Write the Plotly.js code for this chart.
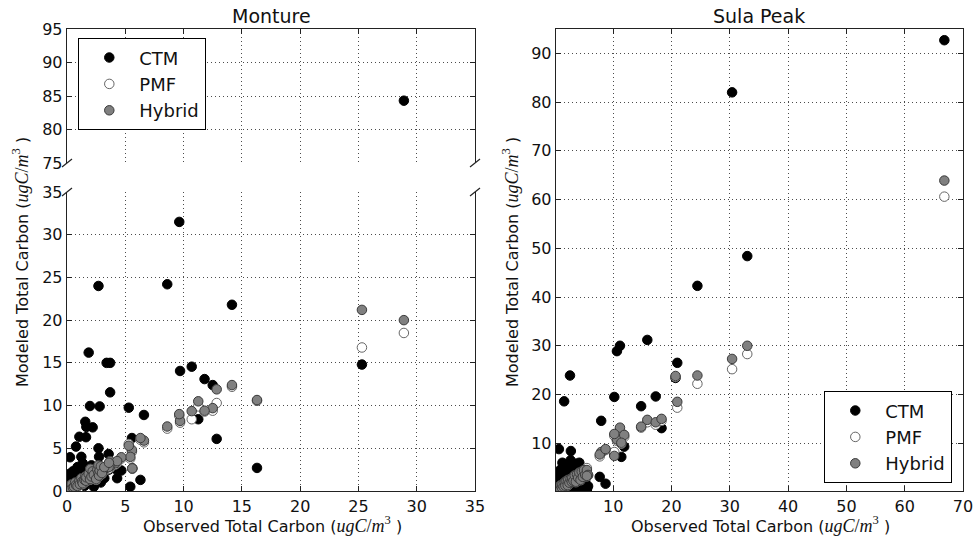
<!DOCTYPE html>
<html>
<head>
<meta charset="utf-8">
<script src="https://cdn.plot.ly/plotly-3.0.1.min.js"></script>
<style>html,body{margin:0;padding:0;background:#fff;}#chart{width:974px;height:538px;}</style>
</head>
<body>
<div id="chart"></div>
<script>
// ---------------- Data: Monture ----------------
const monX   = [28.9, 25.3, 16.3, 14.15, 12.84, 12.5, 11.8, 11.26, 10.7, 9.7, 9.63, 8.6,
                6.6, 6.3, 5.57, 5.6, 5.3, 5.43, 4.66, 4.14, 3.7, 3.4, 3.7, 3.57, 4.3,
                0.05, 0.1, 0.2, 0.26, 0.3, 0.4, 0.5, 0.6, 0.7, 0.77, 0.9, 1.06, 1.1, 1.23, 1.3, 1.35,
                1.5, 1.57, 1.63, 1.66, 1.86, 1.97, 2.0, 2.1, 2.2, 2.3, 2.5, 2.6, 2.7, 2.7, 2.75,
                2.8, 2.9, 3.0, 3.2, 3.6];
const monCTM = [84.3, 14.8, 2.7, 21.8, 6.1, 12.4, 13.1, 8.4, 14.55, 14.05, 31.5, 24.2,
                8.9, 1.3, 6.2, 2.65, 9.75, 0.5, 2.4, 2.6, 15.0, 15.0, 11.55, 4.33, 1.5,
                1.0, 0.3, 2.0, 3.95, 0.9, 1.2, 2.3, 0.8, 1.7, 5.2, 2.8, 6.35, 1.5, 4.0, 2.3, 3.24,
                0.6, 8.1, 6.3, 7.5, 16.2, 9.95, 1.8, 3.0, 7.45, 0.5, 2.6, 1.3, 24.0, 5.0, 4.0,
                9.9, 1.0, 2.2, 1.5, 2.5];
const monPMF = [18.5, 16.8, 10.55, 12.2, 10.3, 9.4, 9.3, 9.9, 8.4, 8.0, 8.8, 7.3,
                5.7, 6.0, 4.6, 2.6, 5.5, 3.8, 3.8, 3.1, 2.7, 2.5, 3.3, 2.6, 3.3,
                0.05, 0.1, 0.5, 0.2, 0.25, 0.7, 0.3, 0.4, 0.9, 0.6, 0.5, 1.1, 0.7, 1.4, 1.0, 0.8,
                1.2, 1.6, 1.1, 1.5, 1.9, 1.3, 2.5, 1.6, 2.2, 1.8, 1.3, 2.4, 2.0, 2.9, 1.7,
                2.3, 2.8, 2.0, 2.7, 3.2];
const monHyb = [20.0, 21.2, 10.65, 12.4, 11.9, 9.7, 9.4, 10.5, 9.35, 8.2, 9.0, 7.55,
                5.9, 6.2, 4.8, 2.65, 5.3, 4.0, 3.95, 3.24, 2.9, 2.7, 3.5, 2.8, 3.5,
                0.1, 0.2, 0.6, 0.3, 0.35, 0.8, 0.4, 0.5, 1.0, 0.7, 0.6, 1.2, 0.8, 1.5, 1.1, 0.9,
                1.3, 1.7, 1.2, 1.6, 2.0, 1.4, 2.6, 1.7, 2.3, 1.9, 1.4, 2.5, 2.1, 3.0, 1.8,
                2.4, 2.9, 2.1, 2.8, 3.3];

// ---------------- Data: Sula Peak ----------------
const sulaX   = [66.8, 30.4, 33.0, 24.45, 21.0, 20.7, 15.86, 17.3, 18.3, 14.8,
                 10.65, 11.17, 10.2, 11.9, 11.4, 10.2, 7.95, 7.7, 8.7,
                 2.6, 1.6, 0.7, 2.75,
                 0.3, 0.5, 0.6, 0.8, 0.9, 1.0, 1.2, 1.3, 1.5, 1.7, 1.8, 2.0, 2.2, 2.3, 2.5, 2.7,
                 2.9, 3.0, 3.2, 3.4, 3.6, 3.8, 4.0, 4.2, 4.4, 4.6, 4.8, 5.0, 5.2, 5.5, 5.7, 5.5];
const sulaCTM = [92.7, 82.0, 48.4, 42.3, 26.5, 23.4, 31.2, 19.6, 13.1, 17.6,
                 28.9, 30.0, 19.5, 9.3, 7.2, 7.6, 14.6, 3.1, 1.7,
                 23.9, 18.6, 8.8, 8.4,
                 1.0, 3.2, 2.0, 0.5, 4.5, 1.5, 3.0, 6.0, 2.2, 0.8, 4.0, 2.8, 5.5, 1.2, 3.5, 6.5,
                 0.6, 4.8, 2.0, 3.0, 5.8, 1.0, 2.5, 6.0, 0.9, 3.8, 1.5, 0.8, 2.3, 0.6, 1.2, 0.5];
const sulaPMF = [60.6, 25.2, 28.3, 22.2, 17.3, 23.6, 14.3, 13.8, 14.6, 13.2,
                 10.5, 12.8, 11.5, 11.3, 9.9, 8.2, 8.0, 7.3, 8.6,
                 2.1, 1.4, 0.6, 2.3,
                 0.3, 0.6, 0.3, 1.0, 0.6, 1.3, 0.8, 1.4, 1.0, 1.9, 1.2, 2.2, 1.3, 2.4, 1.8, 2.6,
                 2.0, 2.8, 2.2, 3.3, 2.0, 3.5, 2.8, 3.9, 2.4, 4.1, 3.0, 4.4, 3.4, 4.9, 3.4, 3.2];
const sulaHyb = [63.9, 27.3, 30.0, 23.9, 18.5, 23.8, 14.8, 14.3, 15.0, 13.4,
                 10.8, 13.2, 11.9, 11.7, 10.1, 7.4, 8.2, 7.7, 8.8,
                 2.2, 1.5, 0.7, 2.4,
                 0.3, 0.7, 0.4, 1.1, 0.7, 1.4, 0.9, 1.5, 1.1, 2.0, 1.3, 2.3, 1.4, 2.5, 1.9, 2.7,
                 2.1, 2.9, 2.3, 3.4, 2.1, 3.6, 2.9, 4.0, 2.5, 4.2, 3.1, 4.5, 3.5, 4.5, 3.5, 3.3];

const seriesNames = ['CTM', 'PMF', 'Hybrid'];
const monTicksUpper = [75, 80, 85, 90, 95];
const sulaXTicks = [10, 20, 30, 40, 50, 60, 70];
const sulaYTicks = [10, 20, 30, 40, 50, 60, 70, 80, 90];

// ---------------- Styles ----------------
const styles = {
  CTM:    {color: '#000000', line: {color: '#000000', width: 1}},
  PMF:    {color: '#ffffff', line: {color: '#666666', width: 1}},
  Hybrid: {color: '#808080', line: {color: '#3a3a3a', width: 1}}
};
const MS = 9.5;

function mk(name, x, y, xa, ya, showlegend, legend) {
  return {
    type: 'scatter', mode: 'markers', name: name, x: x, y: y,
    xaxis: xa, yaxis: ya, showlegend: showlegend, legend: legend,
    marker: {size: MS, color: styles[name].color, line: styles[name].line},
    cliponaxis: true, hoverinfo: 'x+y'
  };
}

const monY = {CTM: monCTM, PMF: monPMF, Hybrid: monHyb};
const sulaY = {CTM: sulaCTM, PMF: sulaPMF, Hybrid: sulaHyb};
const traces = [];
seriesNames.forEach(n => traces.push(mk(n, monX, monY[n], 'x', 'y', true, 'legend')));
seriesNames.forEach(n => traces.push(mk(n, monX, monY[n], 'x2', 'y2', false, 'legend')));
seriesNames.forEach(n => traces.push(mk(n, sulaX, sulaY[n], 'x3', 'y3', true, 'legend2')));

const W = 974, H = 538;
const px = v => v / W;
const py = v => (H - v) / H;

const FONT = 'DejaVu Sans, sans-serif';
const tickFont = {family: FONT, size: 16, color: '#111'};
const gridStyle = {showgrid: true, gridcolor: 'rgba(0,0,0,0.7)', gridwidth: 1, griddash: '1px,3px', zeroline: false};
const lineStyle = {showline: true, linecolor: '#222', linewidth: 1.3, ticks: 'inside', ticklen: 5, tickcolor: '#222', tickfont: tickFont};

const leftDom = [px(67), px(475)];
const rightDom = [px(556), px(963)];

const mathUnit = '(<span style="font-family:Liberation Serif, DejaVu Serif, serif;font-size:18px"><i>ugC</i>/<i>m</i><sup>3</sup></span> )';

function ann(text, x, y, angle, size) {
  return {text: text, x: px(x), y: py(y), xref: 'paper', yref: 'paper', xanchor: 'center', yanchor: 'middle',
          textangle: angle, showarrow: false, font: {family: FONT, size: size, color: '#111'}};
}

const legendStyle = {
  xanchor: 'left', yanchor: 'top',
  bgcolor: '#fff', bordercolor: '#000', borderwidth: 1.3,
  font: {family: FONT, size: 18, color: '#111'}, tracegroupgap: 0, itemwidth: 50
};

const layout = {
  width: W, height: H,
  margin: {l: 0, r: 0, t: 0, b: 0},
  paper_bgcolor: '#fff', plot_bgcolor: '#fff',
  font: {family: FONT, color: '#111'},
  xaxis: Object.assign({domain: leftDom, anchor: 'y', range: [0, 35], dtick: 5, tick0: 0}, gridStyle, lineStyle, {mirror: false}),
  yaxis: Object.assign({domain: [py(491), py(192)], anchor: 'x', range: [0, 35], dtick: 5, tick0: 0}, gridStyle, lineStyle, {mirror: 'ticks'}),
  xaxis2: Object.assign({domain: leftDom, anchor: 'y2', matches: 'x', range: [0, 35], dtick: 5, tick0: 0, side: 'top'}, gridStyle, lineStyle, {showticklabels: false, mirror: false}),
  yaxis2: Object.assign({domain: [py(163), py(29)], anchor: 'x2', range: [75, 95], tickvals: monTicksUpper}, gridStyle, lineStyle, {mirror: 'ticks'}),
  xaxis3: Object.assign({domain: rightDom, anchor: 'y3', range: [0.2, 70], tickvals: sulaXTicks}, gridStyle, lineStyle, {mirror: 'ticks'}),
  yaxis3: Object.assign({domain: [py(491), py(29)], anchor: 'x3', range: [0.2, 95], tickvals: sulaYTicks}, gridStyle, lineStyle, {mirror: 'ticks'}),
  legend: Object.assign({x: px(78), y: py(38)}, legendStyle),
  legend2: Object.assign({x: px(824), y: py(391)}, legendStyle),
  annotations: [
    ann('Monture', 271, 16, 0, 19),
    ann('Sula Peak', 759, 16, 0, 19),
    ann('Observed Total Carbon ' + mathUnit, 272, 524, 0, 16),
    ann('Observed Total Carbon ' + mathUnit, 760, 524, 0, 16),
    ann('Modeled Total Carbon ' + mathUnit, 20, 262, -90, 16),
    ann('Modeled Total Carbon ' + mathUnit, 510, 262, -90, 16)
  ],
  shapes: [[67, 163], [475, 163], [67, 192], [475, 192]].map(p => ({
    type: 'line', xref: 'paper', yref: 'paper',
    x0: px(p[0] - 5), y0: py(p[1] + 4), x1: px(p[0] + 5), y1: py(p[1] - 4),
    line: {color: '#222', width: 1.3}
  }))
};

Plotly.newPlot('chart', traces, layout, {displayModeBar: false, staticPlot: true});
</script>
</body>
</html>
